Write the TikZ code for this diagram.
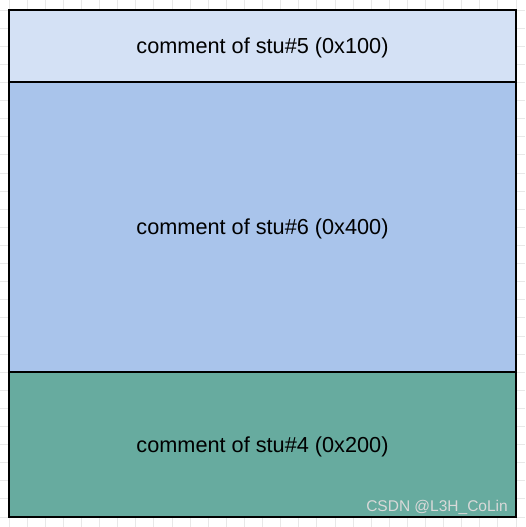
\documentclass[tikz,border=0pt]{standalone}
\usepackage{fontspec}
\setmainfont{Liberation Sans}
\usetikzlibrary{positioning}

\definecolor{lightblue}{HTML}{D4E1F5}
\definecolor{midblue}{HTML}{A9C4EB}
\definecolor{tealgreen}{HTML}{67AB9F}
\definecolor{gridgray}{HTML}{E8E8E8}

\begin{document}
\begin{tikzpicture}[
            stubox/.style={
                    rectangle,
                    draw=black,
                    line width=1.4pt,
                    outer sep=0pt,
                    inner sep=0pt,
                    text depth=0pt,
                    align=center,
                    minimum width=507pt,
                    font=\fontsize{21.7}{26}\selectfont
                },
            fivebox/.style={
                    fill=lightblue,
                    minimum height=72pt
                },
            sixbox/.style={
                    fill=midblue,
                    minimum height=290pt
                },
            fourbox/.style={
                    fill=tealgreen,
                    minimum height=145pt
                },
            gridline/.style={
                    draw=gridgray,
                    line width=0.8pt
                },
            watermark/.style={
                    text=white!85!black,
                    inner sep=0pt,
                    font=\fontsize{15.5}{18}\selectfont
                }
        ]

        \useasboundingbox (0pt,0pt) rectangle (525pt,-527pt);
        \draw[gridline, shift={(9pt,-10pt)}, step=18.107pt] (-9pt,10pt) grid (516pt,-517pt);

        \node[stubox, fivebox] (stufive) at (262.5pt,-46pt) {comment of stu\#5 (0x100)};
        \node[stubox, sixbox, below=0pt of stufive] (stusix) {comment of stu\#6 (0x400)};
        \node[stubox, fourbox, below=0pt of stusix] (stufour) {comment of stu\#4 (0x200)};

        \node[watermark, anchor=south east] (mark) at ([xshift=-8pt,yshift=2pt]stufour.south east) {CSDN @L3H\_CoLin};

    \end{tikzpicture}
\end{document}
